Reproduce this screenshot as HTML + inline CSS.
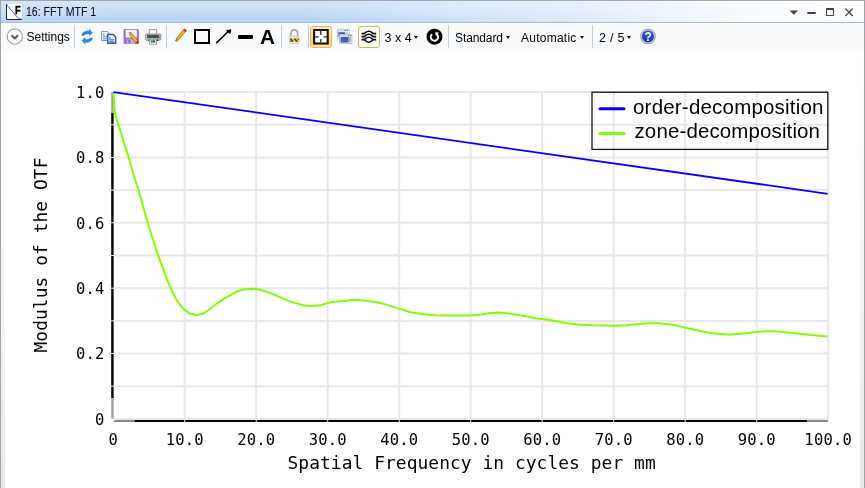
<!DOCTYPE html>
<html><head><meta charset="utf-8"><title>16: FFT MTF 1</title>
<style>
*{box-sizing:border-box}
html,body{margin:0;padding:0}
body{width:865px;height:488px;overflow:hidden;background:#fff;position:relative;font-family:"Liberation Sans",Arial,sans-serif;color:#000}
.abs{position:absolute}
.win{position:absolute;left:0;top:0;width:865px;height:488px;border-left:1px solid #9ea3a9;border-top:1px solid #a2a6aa;border-right:1px solid #9ea3a9}
.title{position:absolute;left:1px;top:1px;width:863px;height:22px;background:linear-gradient(90deg,rgba(255,255,255,0.05) 0%,rgba(255,255,255,0) 15%,rgba(255,255,255,0) 35%,rgba(255,255,255,0.5) 66%,rgba(255,255,255,0.93) 90%,#fff 100%),linear-gradient(180deg,#d4e5fa 0%,#c4dbf8 60%,#b8d3f6 100%);border-bottom:1px solid #aabfd4}
.ttext{position:absolute;left:24.7px;top:4px;font-size:12px;letter-spacing:0;color:#000;white-space:nowrap;transform:scaleX(0.88);transform-origin:0 0}
.tb{position:absolute;top:22px;left:1px;width:863px;height:29px}
.lbl{position:absolute;font-size:12px;white-space:nowrap;color:#000}
.sep{position:absolute;top:25px;width:1px;height:23px;background:#c2cfde}
.caret{position:absolute;width:0;height:0;border-left:2.6px solid transparent;border-right:2.6px solid transparent;border-top:3.3px solid #111}
.plot{position:absolute;left:0;top:0}
.edgeL{position:absolute;left:1px;top:52px;width:4px;height:436px;background:linear-gradient(180deg,rgba(230,232,236,0) 0%,rgba(230,232,236,0.3) 50%,#e6e8ec 100%)}
.edgeR{position:absolute;left:860px;top:52px;width:4px;height:436px;background:linear-gradient(180deg,rgba(230,232,236,0) 0%,rgba(230,232,236,0.4) 50%,#e6e8ec 100%)}
</style></head>
<body>
<svg class="plot" width="865" height="488" viewBox="0 0 865 488"><line x1="113.2" y1="92.1" x2="113.2" y2="418.9" stroke="#e8e8e8" stroke-width="2"/><line x1="184.7" y1="92.1" x2="184.7" y2="418.9" stroke="#e8e8e8" stroke-width="2"/><line x1="256.2" y1="92.1" x2="256.2" y2="418.9" stroke="#e8e8e8" stroke-width="2"/><line x1="327.7" y1="92.1" x2="327.7" y2="418.9" stroke="#e8e8e8" stroke-width="2"/><line x1="399.2" y1="92.1" x2="399.2" y2="418.9" stroke="#e8e8e8" stroke-width="2"/><line x1="470.7" y1="92.1" x2="470.7" y2="418.9" stroke="#e8e8e8" stroke-width="2"/><line x1="542.2" y1="92.1" x2="542.2" y2="418.9" stroke="#e8e8e8" stroke-width="2"/><line x1="613.7" y1="92.1" x2="613.7" y2="418.9" stroke="#e8e8e8" stroke-width="2"/><line x1="685.2" y1="92.1" x2="685.2" y2="418.9" stroke="#e8e8e8" stroke-width="2"/><line x1="756.7" y1="92.1" x2="756.7" y2="418.9" stroke="#e8e8e8" stroke-width="2"/><line x1="828.2" y1="92.1" x2="828.2" y2="418.9" stroke="#e8e8e8" stroke-width="2"/><line x1="114.6" y1="418.9" x2="828.2" y2="418.9" stroke="#e8e8e8" stroke-width="2"/><line x1="114.6" y1="386.2" x2="828.2" y2="386.2" stroke="#e8e8e8" stroke-width="2"/><line x1="114.6" y1="353.5" x2="828.2" y2="353.5" stroke="#e8e8e8" stroke-width="2"/><line x1="114.6" y1="320.9" x2="828.2" y2="320.9" stroke="#e8e8e8" stroke-width="2"/><line x1="114.6" y1="288.2" x2="828.2" y2="288.2" stroke="#e8e8e8" stroke-width="2"/><line x1="114.6" y1="255.5" x2="828.2" y2="255.5" stroke="#e8e8e8" stroke-width="2"/><line x1="114.6" y1="222.8" x2="828.2" y2="222.8" stroke="#e8e8e8" stroke-width="2"/><line x1="114.6" y1="190.1" x2="828.2" y2="190.1" stroke="#e8e8e8" stroke-width="2"/><line x1="114.6" y1="157.5" x2="828.2" y2="157.5" stroke="#e8e8e8" stroke-width="2"/><line x1="114.6" y1="124.8" x2="828.2" y2="124.8" stroke="#e8e8e8" stroke-width="2"/><line x1="114.6" y1="92.1" x2="828.2" y2="92.1" stroke="#e8e8e8" stroke-width="2"/><line x1="112.4" y1="92.2" x2="112.4" y2="113" stroke="#a0a0a0" stroke-width="2.4"/><line x1="112.4" y1="113" x2="112.4" y2="398" stroke="#000" stroke-width="2.4"/><line x1="112.4" y1="398" x2="112.4" y2="418.6" stroke="#a2a2a2" stroke-width="2.4"/><line x1="114" y1="421" x2="134.5" y2="421" stroke="#8a8a8a" stroke-width="2"/><line x1="134.5" y1="421" x2="807" y2="421" stroke="#000" stroke-width="2.2"/><line x1="807" y1="421" x2="828" y2="421" stroke="#8a8a8a" stroke-width="2"/><rect x="110.6" y="385.7" width="4" height="1" fill="#f2f2f2"/><rect x="110.6" y="353.0" width="4" height="1" fill="#f2f2f2"/><rect x="110.6" y="320.4" width="4" height="1" fill="#f2f2f2"/><rect x="110.6" y="287.7" width="4" height="1" fill="#f2f2f2"/><rect x="110.6" y="255.0" width="4" height="1" fill="#f2f2f2"/><rect x="110.6" y="222.3" width="4" height="1" fill="#f2f2f2"/><rect x="110.6" y="189.6" width="4" height="1" fill="#f2f2f2"/><rect x="110.6" y="157.0" width="4" height="1" fill="#f2f2f2"/><rect x="110.6" y="124.3" width="4" height="1" fill="#f2f2f2"/><rect x="184.2" y="419.6" width="1" height="3" fill="#f2f2f2"/><rect x="255.7" y="419.6" width="1" height="3" fill="#f2f2f2"/><rect x="327.2" y="419.6" width="1" height="3" fill="#f2f2f2"/><rect x="398.7" y="419.6" width="1" height="3" fill="#f2f2f2"/><rect x="470.2" y="419.6" width="1" height="3" fill="#f2f2f2"/><rect x="541.7" y="419.6" width="1" height="3" fill="#f2f2f2"/><rect x="613.2" y="419.6" width="1" height="3" fill="#f2f2f2"/><rect x="684.7" y="419.6" width="1" height="3" fill="#f2f2f2"/><rect x="756.2" y="419.6" width="1" height="3" fill="#f2f2f2"/><path d="M113.4,92.3 L114.0,100.0 L114.6,108.0 L115.3,114.5 L116.3,118.5 L117.5,122.0 L120.0,129.5 L124.0,143.0 L128.5,157.0 L133.7,175.0 L138.4,189.8 L143.0,206.0 L147.6,222.4 L151.5,235.0 L158.3,255.6 L163.0,268.5 L166.8,279.0 L170.5,287.6 L174.0,295.3 L177.3,301.0 L181.0,306.2 L184.7,309.9 L190.0,313.6 L197.0,314.9 L202.0,314.0 L205.6,312.2 L211.0,308.0 L217.9,302.8 L225.0,298.2 L229.7,295.7 L234.0,293.0 L239.4,290.5 L245.0,289.3 L251.9,288.7 L256.1,289.0 L262.0,290.3 L267.2,291.9 L272.0,293.8 L278.3,296.4 L289.3,301.2 L300.4,304.4 L305.0,305.5 L310.2,306.0 L316.0,305.8 L321.2,305.0 L326.0,303.6 L331.0,302.2 L335.5,301.5 L343.9,301.0 L352.2,299.8 L357.7,300.0 L366.1,300.8 L374.4,301.9 L382.7,303.6 L392.4,306.6 L400.7,309.1 L410.4,312.2 L420.2,313.7 L427.0,314.6 L435.4,315.3 L447.9,315.4 L453.9,315.4 L467.7,315.6 L478.8,314.7 L488.5,313.3 L498.3,312.6 L509.3,313.6 L517.7,314.9 L526.0,316.3 L537.1,318.5 L548.2,319.8 L557.9,321.6 L566.6,323.2 L577.7,324.6 L591.6,325.2 L605.5,325.4 L615.2,325.7 L626.3,325.2 L636.0,324.3 L647.1,323.3 L658.2,323.3 L668.3,324.2 L676.6,325.6 L687.7,328.3 L698.8,330.7 L709.9,332.9 L721.0,334.0 L729.3,334.6 L740.4,333.7 L750.2,332.7 L759.9,331.6 L767.4,331.2 L776.0,331.2 L784.6,332.2 L796.9,333.4 L809.1,334.8 L821.4,335.9 L827.6,336.4" fill="none" stroke="#80ff00" stroke-width="2" stroke-linejoin="round"/><line x1="113.3" y1="92.1" x2="827.7" y2="193.8" stroke="#0000ff" stroke-width="1.8"/><rect x="592" y="92.2" width="235.8" height="57.2" fill="none" stroke="#151515" stroke-width="1.3"/><line x1="600" y1="108.8" x2="624" y2="108.8" stroke="#0000ff" stroke-width="3" stroke-linecap="round"/><line x1="600" y1="133.6" x2="624" y2="133.6" stroke="#80ff00" stroke-width="3" stroke-linecap="round"/><text x="633" y="113.9" font-family="Liberation Sans, Arial, sans-serif" font-size="20.5" letter-spacing="0.2" fill="#000">order-decomposition</text><text x="634.5" y="138" font-family="Liberation Sans, Arial, sans-serif" font-size="20.5" letter-spacing="0.12" fill="#000">zone-decomposition</text><text x="113.2" y="444.6" text-anchor="middle" font-family="DejaVu Sans Mono, monospace" font-size="15.5" letter-spacing="0.2" fill="#000">0</text><text x="184.7" y="444.6" text-anchor="middle" font-family="DejaVu Sans Mono, monospace" font-size="15.5" letter-spacing="0.2" fill="#000">10.0</text><text x="256.2" y="444.6" text-anchor="middle" font-family="DejaVu Sans Mono, monospace" font-size="15.5" letter-spacing="0.2" fill="#000">20.0</text><text x="327.7" y="444.6" text-anchor="middle" font-family="DejaVu Sans Mono, monospace" font-size="15.5" letter-spacing="0.2" fill="#000">30.0</text><text x="399.2" y="444.6" text-anchor="middle" font-family="DejaVu Sans Mono, monospace" font-size="15.5" letter-spacing="0.2" fill="#000">40.0</text><text x="470.7" y="444.6" text-anchor="middle" font-family="DejaVu Sans Mono, monospace" font-size="15.5" letter-spacing="0.2" fill="#000">50.0</text><text x="542.2" y="444.6" text-anchor="middle" font-family="DejaVu Sans Mono, monospace" font-size="15.5" letter-spacing="0.2" fill="#000">60.0</text><text x="613.7" y="444.6" text-anchor="middle" font-family="DejaVu Sans Mono, monospace" font-size="15.5" letter-spacing="0.2" fill="#000">70.0</text><text x="685.2" y="444.6" text-anchor="middle" font-family="DejaVu Sans Mono, monospace" font-size="15.5" letter-spacing="0.2" fill="#000">80.0</text><text x="756.7" y="444.6" text-anchor="middle" font-family="DejaVu Sans Mono, monospace" font-size="15.5" letter-spacing="0.2" fill="#000">90.0</text><text x="828.2" y="444.6" text-anchor="middle" font-family="DejaVu Sans Mono, monospace" font-size="15.5" letter-spacing="0.2" fill="#000">100.0</text><text x="104.6" y="424.8" text-anchor="end" font-family="DejaVu Sans Mono, monospace" font-size="15.5" letter-spacing="0.2" fill="#000">0</text><text x="104.6" y="359.4" text-anchor="end" font-family="DejaVu Sans Mono, monospace" font-size="15.5" letter-spacing="0.2" fill="#000">0.2</text><text x="104.6" y="294.1" text-anchor="end" font-family="DejaVu Sans Mono, monospace" font-size="15.5" letter-spacing="0.2" fill="#000">0.4</text><text x="104.6" y="228.7" text-anchor="end" font-family="DejaVu Sans Mono, monospace" font-size="15.5" letter-spacing="0.2" fill="#000">0.6</text><text x="104.6" y="163.4" text-anchor="end" font-family="DejaVu Sans Mono, monospace" font-size="15.5" letter-spacing="0.2" fill="#000">0.8</text><text x="104.6" y="98.0" text-anchor="end" font-family="DejaVu Sans Mono, monospace" font-size="15.5" letter-spacing="0.2" fill="#000">1.0</text><text x="287.5" y="468.6" font-family="DejaVu Sans Mono, monospace" font-size="17.9" letter-spacing="0.06" fill="#000">Spatial Frequency in cycles per mm</text><text transform="translate(47.1,352.5) rotate(-90)" x="0" y="0" font-family="DejaVu Sans Mono, monospace" font-size="17.9" letter-spacing="0.06" fill="#000">Modulus of the OTF</text></svg>
<div class="abs" style="left:1px;top:23px;width:863px;height:28px;background:#f9fafb"></div>
<div class="edgeL"></div><div class="edgeR"></div>
<div class="win"></div>
<div class="title">
  <svg class="abs" style="left:5px;top:3px" width="16" height="16" viewBox="0 0 16 16">
    <rect x="0" y="0" width="16" height="16" fill="#fff"/>
    <path d="M0.5,0 V15.5 H16" fill="none" stroke="#222" stroke-width="1"/>
    <path d="M0.5,0.5 L11.5,13.5 Q13,15.2 16,15.2" fill="none" stroke="#5558b8" stroke-width="1"/>
    <text x="8.9" y="9.7" font-family="Liberation Sans, Arial, sans-serif" font-weight="bold" font-size="10.2" transform="scale(0.92,1)" transform-origin="8.9 0" fill="#000" stroke="#000" stroke-width="0.35">F</text>
  </svg>
  <div class="ttext">16: FFT MTF 1</div>
  <svg class="abs" style="left:787px;top:7px" width="70" height="10" viewBox="0 0 70 10">
    <path d="M1.5,2.6 H10 L5.75,6.8 Z" fill="#454545"/>
    <rect x="19.3" y="4" width="8.4" height="2" fill="#454545"/>
    <rect x="38.5" y="0.5" width="7" height="7" fill="none" stroke="#454545" stroke-width="1"/>
    <rect x="38" y="0" width="8" height="2" fill="#454545"/>
    <path d="M57.3,0.5 L64.8,8 M64.8,0.5 L57.3,8" stroke="#454545" stroke-width="1.2"/>
  </svg>
</div>

<!-- toolbar -->
<svg class="abs" style="left:6.3px;top:28.3px" width="18" height="18" viewBox="0 0 18 18">
  <circle cx="8.8" cy="8.6" r="7.6" fill="#fff" stroke="#9c9c9c" stroke-width="1.1"/>
  <path d="M5.5,7.2 L8.8,10.4 L12.1,7.2" fill="none" stroke="#505050" stroke-width="1.9"/>
</svg>
<div class="lbl" style="left:26.5px;top:30px;letter-spacing:0px">Settings</div>
<div class="sep" style="left:74px"></div>

<!-- refresh -->
<svg class="abs" style="left:78px;top:26px" width="20" height="20" viewBox="0 0 20 20">
  <defs><linearGradient id="rg" x1="0" y1="0" x2="0" y2="1"><stop offset="0" stop-color="#3fa2f2"/><stop offset="1" stop-color="#1b74d6"/></linearGradient></defs>
  <path d="M3.7,9.4 C4.3,6 7.6,4.4 11,4.6 L11,2.3 L14.7,6.8 L11,10.1 L11,8 C8.4,7.9 6.6,8.6 5.5,9.9 Z" fill="url(#rg)"/>
  <path d="M3.7,9.4 C4.3,6 7.6,4.4 11,4.6 L11,2.3 L14.7,6.8 L11,10.1 L11,8 C8.4,7.9 6.6,8.6 5.5,9.9 Z" fill="url(#rg)" transform="rotate(180 9.2 10.7)"/>
</svg>
<!-- copy -->
<svg class="abs" style="left:100px;top:29px" width="18" height="16" viewBox="0 0 18 16">
  <path d="M1.5,2.5 H7.3 L9.5,4.7 V11.5 H1.5 Z" fill="#eef2f8" stroke="#8796b2" stroke-width="1"/>
  <rect x="3" y="5" width="1.5" height="1.2" fill="#5a8ad0"/><rect x="3" y="7.2" width="5" height="1.1" fill="#6a9ad8"/><rect x="3" y="9.2" width="5" height="1.1" fill="#6a9ad8"/>
  <path d="M7.7,5.5 H13.2 L15.7,8 V14.3 H7.7 Z" fill="#f4f7fd" stroke="#3352b0" stroke-width="1.4"/>
  <rect x="9.2" y="8.3" width="1.6" height="1.3" fill="#3a6ad0"/><rect x="9.2" y="10.3" width="5" height="1.1" fill="#3a62c0"/><rect x="9.2" y="12.2" width="5" height="1.1" fill="#3a62c0"/>
</svg>
<!-- save -->
<svg class="abs" style="left:122px;top:28px" width="18" height="17" viewBox="0 0 18 17">
  <rect x="1.5" y="1.1" width="15.4" height="14.9" rx="1.5" fill="#a272cc"/>
  <rect x="3.7" y="1.8" width="11.1" height="7.7" fill="#f4f2f8"/>
  <rect x="4.8" y="11.1" width="8" height="4.6" fill="#b8b4c4"/>
  <rect x="6.6" y="11.8" width="1.6" height="3.4" fill="#8a60b0"/>
  <path d="M8.2,5.4 L15.2,14.2" stroke="#b06a10" stroke-width="3.2"/>
  <path d="M8.2,5.4 L15.2,14.2" stroke="#f8b020" stroke-width="2.2"/>
  <path d="M14.6,13.4 L16,15.3" stroke="#d82020" stroke-width="2.6"/>
  <path d="M7.3,4.3 L8.6,5.9" stroke="#909090" stroke-width="2.2"/>
</svg>
<!-- print -->
<svg class="abs" style="left:144px;top:28px" width="18" height="18" viewBox="0 0 18 18">
  <rect x="5.3" y="1.6" width="7.2" height="5" fill="#fff" stroke="#9a9a9a" stroke-width="1"/>
  <rect x="1.3" y="6" width="15.6" height="6.3" rx="1.2" fill="#c4c4c4" stroke="#8a8a8a" stroke-width="0.8"/>
  <rect x="3" y="6.8" width="12.2" height="3.4" fill="#4e4e4e"/>
  <rect x="15" y="9.2" width="1.3" height="1.6" fill="#40c040"/>
  <rect x="4.4" y="11.4" width="1.6" height="1.6" fill="#222"/><rect x="12.6" y="11.4" width="1.6" height="1.6" fill="#222"/>
  <rect x="5.5" y="11.8" width="7" height="4.4" fill="#fff" stroke="#9a9a9a" stroke-width="0.9"/>
  <rect x="6.6" y="12.2" width="2.2" height="2.4" fill="#2f8ad8"/><rect x="8.8" y="12.2" width="2.4" height="2.4" fill="#1a7a4a"/>
</svg>
<div class="sep" style="left:166px"></div>
<!-- pencil -->
<svg class="abs" style="left:172px;top:26px" width="18" height="18" viewBox="0 0 18 18">
  <path d="M5.2,13.6 L12.7,4.6" stroke="#a86010" stroke-width="3.2"/>
  <path d="M5.2,13.6 L12.7,4.6" stroke="#fbb018" stroke-width="2.1"/>
  <path d="M12.3,5.1 L13.6,3.5" stroke="#e01818" stroke-width="3"/>
  <path d="M3.6,15.3 L5.5,13.2" stroke="#8a8a60" stroke-width="2.2"/>
</svg>
<!-- square -->
<div class="abs" style="left:194.3px;top:29px;width:15.5px;height:15.4px;border:2.05px solid #000"></div>
<!-- arrow -->
<svg class="abs" style="left:212px;top:26px" width="24" height="20" viewBox="0 0 24 20">
  <path d="M4.2,17.1 L16.5,5.2" stroke="#000" stroke-width="1.5"/>
  <path d="M19.4,3.2 L13.8,4.2 L18.2,8.2 Z" fill="#000"/>
</svg>
<!-- dash -->
<div class="abs" style="left:237.7px;top:34.7px;width:15.8px;height:4px;background:#000;border-radius:1px"></div>
<!-- A -->
<div class="abs" style="left:260.3px;top:27.2px;font-size:20px;font-weight:bold;line-height:20px;transform:scaleX(1.04);transform-origin:0 0">A</div>
<div class="sep" style="left:280.5px"></div>
<!-- lock -->
<svg class="abs" style="left:284px;top:26px" width="20" height="20" viewBox="0 0 20 20">
  <path d="M6.9,10.5 V7.8 C6.9,2.6 13.7,2.6 13.7,7.8 V10.5" fill="none" stroke="#a8a8a8" stroke-width="1.7"/>
  <rect x="5.4" y="10.2" width="9.6" height="7.4" rx="0.8" fill="#e6e6e6" stroke="#c0c0c0" stroke-width="0.8"/>
  <rect x="5.9" y="12.5" width="8.6" height="3.3" fill="#e4c21c"/>
  <path d="M5.9,12.5 H7.2 L9.4,15.8 H7.9 Z M10.0,12.5 H11.4 L13.6,15.8 H12.1 Z M5.9,14.2 L7,15.8 H5.9 Z M14.5,12.5 V14.6 L13.1,12.5 Z" fill="#202020"/>
</svg>
<div class="sep" style="left:307.5px"></div>
<!-- button 1 (active) -->
<div class="abs" style="left:310px;top:26px;width:22px;height:22px;border:1.3px solid #e2b955;border-radius:3px;background:linear-gradient(180deg,#feecc8 0%,#fcd98a 45%,#fbd070 70%,#fde3a6 100%)"></div>
<svg class="abs" style="left:313px;top:29px" width="16" height="16" viewBox="0 0 16 16">
  <rect x="1.1" y="0.9" width="13.6" height="13.6" fill="#fff" stroke="#111" stroke-width="2.1"/>
  <path d="M7.8,2 V5.9 M7.8,9.9 V13.3 M2,7.8 H5.7 M10.5,7.8 H14" stroke="#222" stroke-width="1.3"/>
</svg>
<!-- windows icon -->
<svg class="abs" style="left:336px;top:28px" width="18" height="18" viewBox="0 0 18 18">
  <rect x="1.6" y="1.3" width="11.6" height="9.4" fill="#eef2f8" stroke="#b0bccc" stroke-width="0.9"/>
  <rect x="2" y="1.7" width="10.8" height="1.6" fill="#d0daea"/>
  <rect x="8.6" y="2" width="1.2" height="1.1" fill="#4a70c8"/><rect x="10.6" y="2" width="1.2" height="1.1" fill="#4a70c8"/>
  <rect x="2.3" y="4.2" width="6.6" height="4.4" fill="#3e5cc2"/>
  <rect x="9.2" y="4.4" width="2.8" height="2.6" fill="#c8c8c8"/>
  <rect x="3.6" y="6.5" width="12.3" height="9.1" fill="#f0f4fa" stroke="#b0bccc" stroke-width="0.9"/>
  <rect x="4" y="6.9" width="11.5" height="1.6" fill="#d0daea"/>
  <rect x="12" y="7.2" width="1.2" height="1.1" fill="#4a70c8"/><rect x="14" y="7.2" width="1.2" height="1.1" fill="#4a70c8"/>
  <rect x="4.7" y="9" width="7.9" height="5.5" fill="#3a52bc"/>
  <rect x="4.7" y="10.7" width="7.9" height="0.5" fill="#5a72d0"/><rect x="4.7" y="12.5" width="7.9" height="0.5" fill="#5a72d0"/>
  <rect x="13.1" y="9.2" width="1.9" height="5" fill="#b0b0b0"/>
</svg>
<!-- button 3 -->
<div class="abs" style="left:358px;top:26px;width:22px;height:21.5px;border:1.4px solid #d6b258;border-radius:3px;background:#fff"></div>
<svg class="abs" style="left:360px;top:29px" width="18" height="16" viewBox="0 0 18 16">
  <path d="M4.4,4.6 L6.4,2.9 L8.7,2.1 L11,2.9 L13,4.6 L13,10.6 L11,12.4 L8.7,13.3 L6.4,12.4 L4.4,10.6 Z" fill="#fff"/>
  <path d="M1.6,4.6 H4.6 M12.8,4.6 H16.2 M1.6,7.6 H4.6 M12.8,7.6 H16.2 M1.6,10.6 H4.6 M12.8,10.6 H16.2" stroke="#000" stroke-width="1.6"/>
  <path d="M4.4,4.6 L6.4,2.9 L8.7,2.1 L11,2.9 L13,4.6 M4.4,7.6 L6.4,5.9 L8.7,5.1 L11,5.9 L13,7.6 M4.4,10.6 L6.4,8.9 L8.7,8.1 L11,8.9 L13,10.6 M4.4,10.6 L6.4,12.4 L8.7,13.3 L11,12.4 L13,10.6" fill="none" stroke="#000" stroke-width="1.4" stroke-linejoin="round"/>
</svg>
<div class="lbl" style="left:384.5px;top:31px;font-size:12.5px;letter-spacing:0px">3 x 4</div>
<div class="caret" style="left:414.2px;top:35.5px"></div>
<!-- reset circle -->
<svg class="abs" style="left:424px;top:26px" width="22" height="21" viewBox="0 0 22 21">
  <circle cx="10.5" cy="10.7" r="8" fill="#000"/>
  <path d="M8.02,8.17 A3.7,3.7 0 1 0 12.6,8.0" fill="none" stroke="#fff" stroke-width="1.9"/>
  <path d="M11.0,6.4 L14.9,6.2 L12.0,10.2 Z" fill="#fff"/>
</svg>
<div class="sep" style="left:447.5px"></div>
<div class="lbl" style="left:455px;top:31px;letter-spacing:-0.1px">Standard</div>
<div class="caret" style="left:506.3px;top:35.5px"></div>
<div class="lbl" style="left:521px;top:31px;letter-spacing:0.25px">Automatic</div>
<div class="caret" style="left:579.8px;top:35.5px"></div>
<div class="sep" style="left:591.5px"></div>
<div class="lbl" style="left:599px;top:31px;font-size:12.5px;letter-spacing:0.3px">2 / 5</div>
<div class="caret" style="left:627.2px;top:35.5px"></div>
<!-- help -->
<svg class="abs" style="left:639px;top:28px" width="18" height="18" viewBox="0 0 18 18">
  <defs><radialGradient id="hg" cx="0.55" cy="0.35" r="0.75"><stop offset="0" stop-color="#3c6ee0"/><stop offset="0.6" stop-color="#1f44b4"/><stop offset="1" stop-color="#1a3aa0"/></radialGradient></defs>
  <circle cx="9" cy="8.5" r="7.8" fill="#a2a2a2"/>
  <circle cx="9" cy="8.5" r="6.6" fill="#e4e4e4"/>
  <circle cx="9" cy="8.5" r="6.0" fill="url(#hg)"/>
  <text x="9.1" y="12.9" text-anchor="middle" font-family="Liberation Sans, Arial, sans-serif" font-weight="bold" font-size="12" fill="#f4f4f4">?</text>
</svg>
</body></html>
